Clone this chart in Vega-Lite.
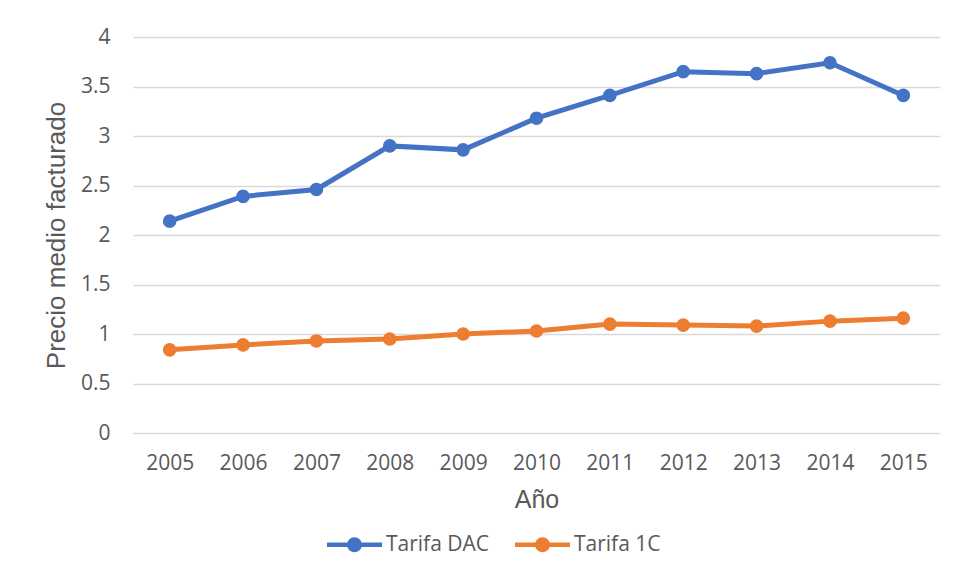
{
  "$schema": "https://vega.github.io/schema/vega-lite/v6.json",
  "width": 807,
  "height": 396,
  "autosize": "none",
  "padding": {"left": 133, "top": 37, "right": 18, "bottom": 143},
  "background": "white",
  "data": {
    "values": [
      {"year": "2005", "series": "Tarifa DAC", "price": 2.14},
      {"year": "2006", "series": "Tarifa DAC", "price": 2.39},
      {"year": "2007", "series": "Tarifa DAC", "price": 2.46},
      {"year": "2008", "series": "Tarifa DAC", "price": 2.90},
      {"year": "2009", "series": "Tarifa DAC", "price": 2.86},
      {"year": "2010", "series": "Tarifa DAC", "price": 3.18},
      {"year": "2011", "series": "Tarifa DAC", "price": 3.41},
      {"year": "2012", "series": "Tarifa DAC", "price": 3.65},
      {"year": "2013", "series": "Tarifa DAC", "price": 3.63},
      {"year": "2014", "series": "Tarifa DAC", "price": 3.74},
      {"year": "2015", "series": "Tarifa DAC", "price": 3.41},
      {"year": "2005", "series": "Tarifa 1C", "price": 0.84},
      {"year": "2006", "series": "Tarifa 1C", "price": 0.89},
      {"year": "2007", "series": "Tarifa 1C", "price": 0.93},
      {"year": "2008", "series": "Tarifa 1C", "price": 0.95},
      {"year": "2009", "series": "Tarifa 1C", "price": 1.00},
      {"year": "2010", "series": "Tarifa 1C", "price": 1.03},
      {"year": "2011", "series": "Tarifa 1C", "price": 1.10},
      {"year": "2012", "series": "Tarifa 1C", "price": 1.09},
      {"year": "2013", "series": "Tarifa 1C", "price": 1.08},
      {"year": "2014", "series": "Tarifa 1C", "price": 1.13},
      {"year": "2015", "series": "Tarifa 1C", "price": 1.16}
    ]
  },
  "mark": {"type": "line", "strokeWidth": 5, "point": {"filled": true, "size": 185}},
  "encoding": {
    "x": {
      "field": "year",
      "type": "ordinal",
      "scale": {"type": "point", "padding": 0.5},
      "axis": {
        "title": "Año",
        "labelAngle": 0,
        "grid": false,
        "domain": false,
        "ticks": false,
        "labelPadding": 19,
        "titlePadding": 14,
        "labelFont": "Open Sans",
        "labelFontSize": 21,
        "labelColor": "#595959",
        "titleFont": "Liberation Sans",
        "titleFontSize": 25,
        "titleFontWeight": "normal",
        "titleColor": "#595959"
      }
    },
    "y": {
      "field": "price",
      "type": "quantitative",
      "scale": {"domain": [0, 4], "nice": false, "zero": true},
      "axis": {
        "title": "Precio medio facturado",
        "values": [0, 0.5, 1, 1.5, 2, 2.5, 3, 3.5, 4],
        "format": ".1~f",
        "grid": true,
        "gridColor": "#d9d9d9",
        "gridWidth": 1.3,
        "domain": false,
        "ticks": false,
        "labelPadding": 23,
        "titlePadding": 11,
        "labelFont": "Open Sans",
        "labelFontSize": 21,
        "labelColor": "#595959",
        "titleFont": "Liberation Sans",
        "titleFontSize": 26,
        "titleFontWeight": "normal",
        "titleColor": "#595959"
      }
    },
    "color": {
      "field": "series",
      "type": "nominal",
      "sort": ["Tarifa DAC", "Tarifa 1C"],
      "scale": {"domain": ["Tarifa DAC", "Tarifa 1C"], "range": ["#4472C4", "#ED7D31"]},
      "legend": {
        "title": null,
        "orient": "none",
        "direction": "horizontal",
        "legendX": 194,
        "legendY": 480,
        "symbolType": "M-1,-0.08L1,-0.08L1,0.08L-1,0.08Z M-0.27,0A0.27,0.27 0 1,1 0.27,0A0.27,0.27 0 1,1 -0.27,0Z",
        "symbolSize": 3025,
        "symbolStrokeWidth": 0,
        "labelOffset": 4,
        "columnPadding": 25,
        "labelFont": "Open Sans",
        "labelFontSize": 21,
        "labelColor": "#595959",
        "encode": {
          "symbols": {"update": {"fill": {"scale": "color", "field": "value"}, "strokeWidth": {"value": 0}, "opacity": {"value": 1}}}
        }
      }
    }
  },
  "config": {"view": {"stroke": null}}
}
